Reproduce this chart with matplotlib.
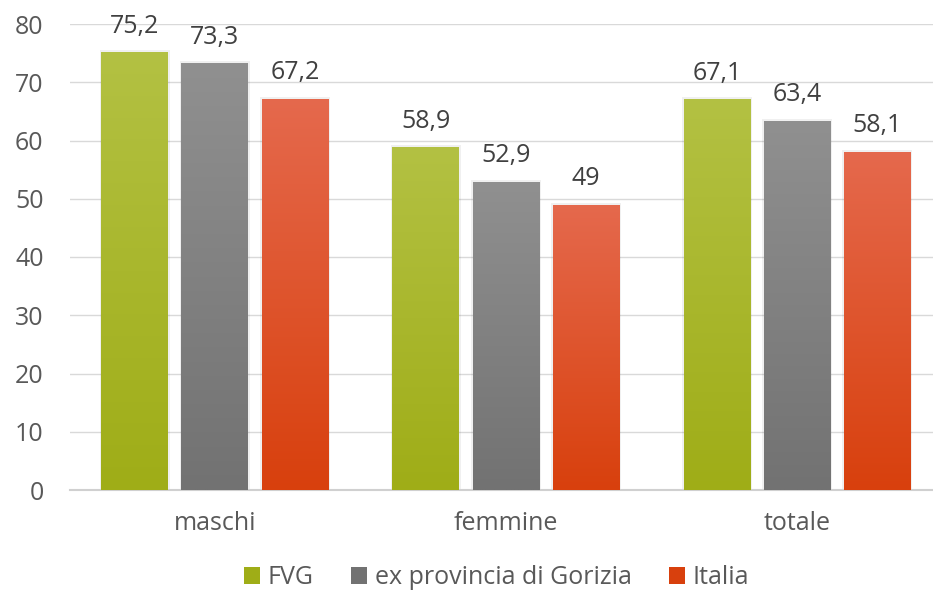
import numpy as np
import matplotlib
matplotlib.use("Agg")
import matplotlib.pyplot as plt
from matplotlib.patches import Rectangle
from matplotlib.colors import LinearSegmentedColormap

categories = ["maschi", "femmine", "totale"]
series = ["FVG", "ex provincia di Gorizia", "Italia"]
fvg = [75.2, 58.9, 67.1]
gorizia = [73.3, 52.9, 63.4]
italia = [67.2, 49, 58.1]
labels_fvg = ["75,2", "58,9", "67,1"]
labels_gor = ["73,3", "52,9", "63,4"]
labels_ita = ["67,2", "49", "58,1"]

# top colour, bottom colour for each series
grads = [("#b3c143", "#9fad17"), ("#909090", "#727272"), ("#e5694d", "#d8400d")]

plt.rcParams['font.family'] = ['Open Sans', 'DejaVu Sans']

fig = plt.figure(figsize=(9.33, 5.93), dpi=100)
ax = fig.add_axes([70 / 933, (593 - 490) / 593, 863 / 933, 466 / 593])

x = np.arange(len(categories))
w = 0.23
step = 0.275

for i, (vals, labs) in enumerate(zip([fvg, gorizia, italia], [labels_fvg, labels_gor, labels_ita])):
    top, bot = grads[i]
    cmap = LinearSegmentedColormap.from_list("g%d" % i, [bot, top])
    for xc, v, lab in zip(x + (i - 1) * step, vals, labs):
        # soft shadow
        sh = Rectangle((xc - w / 2 - 0.006, 0), w + 0.012, v + 0.3,
                       facecolor="#000000", alpha=0.06, edgecolor="none", zorder=2)
        ax.add_patch(sh)
        rect = Rectangle((xc - w / 2, 0), w, v, facecolor="none", edgecolor="none", zorder=3)
        ax.add_patch(rect)
        grad = np.linspace(0, 1, 256).reshape(-1, 1)
        im = ax.imshow(grad, cmap=cmap, origin="lower", aspect="auto",
                       extent=(xc - w / 2, xc + w / 2, 0, v), zorder=3)
        im.set_clip_path(rect)
        ax.text(xc, v + 2.3, lab, ha="center", va="bottom", fontsize=18, color="#404040")

ax.set_xlim(-0.498, 2.467)
ax.set_ylim(0, 80)
ax.set_yticks(np.arange(0, 81, 10))
ax.set_xticks(x)
ax.set_xticklabels(categories)
ax.yaxis.grid(True, color="#d9d9d9", linewidth=1)
ax.set_axisbelow(True)
for s in ["top", "right", "left"]:
    ax.spines[s].set_visible(False)
ax.spines["bottom"].set_color("#d0d0d0")
ax.spines["bottom"].set_linewidth(1.5)
ax.tick_params(axis="both", length=0, labelsize=18, labelcolor="#595959")
ax.tick_params(axis="y", pad=19)
ax.tick_params(axis="x", pad=15)

handles = [Rectangle((0, 0), 1, 1, facecolor=grads[i][1], edgecolor="none") for i in range(3)]
fig.legend(handles, series, loc="center", bbox_to_anchor=(0.532, 0.026), ncol=3, frameon=False,
           fontsize=18, labelcolor="#595959", handlelength=0.65, handleheight=0.65,
           handletextpad=0.3, columnspacing=1.5)

fig.savefig("out.png", dpi=100)
